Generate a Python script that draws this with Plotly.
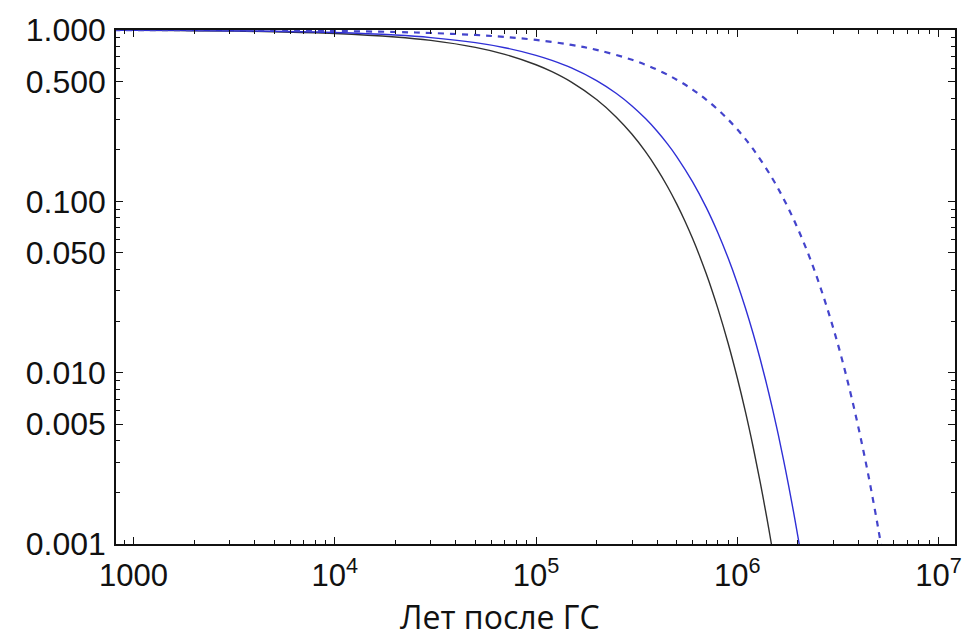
import plotly.graph_objects as go

# Years after the event (x) and surviving fraction for each curve (y)
t_black = [800, 1000, 2000, 5000, 1e4, 2e4, 3e4, 5e4, 7e4, 1e5, 1.2e5, 1.5e5, 2e5, 2.5e5,
           3e5, 3.5e5, 4e5, 4.5e5, 5e5, 5.5e5, 6e5, 6.5e5, 7e5, 7.5e5, 8e5, 9e5, 1e6,
           1.1e6, 1.2e6, 1.3e6, 1.4e6, 1.45e6, 1.5e6]
f_black = [0.9963, 0.9953, 0.9907, 0.9769, 0.9544, 0.9108, 0.8692, 0.7917, 0.7210, 0.6267,
           0.5708, 0.4961, 0.3927, 0.3109, 0.2461, 0.1949, 0.1542, 0.1221, 0.0966, 0.0765,
           0.0606, 0.0480, 0.0380, 0.0301, 0.0238, 0.01491, 0.00934, 0.00586, 0.00367,
           0.00230, 0.00144, 0.00114, 0.000903]

t_blue = [800, 1000, 2000, 5000, 1e4, 2e4, 3e4, 5e4, 7e4, 1e5, 1.2e5, 1.5e5, 2e5, 2.5e5,
          3e5, 3.5e5, 4e5, 4.5e5, 5e5, 6e5, 7e5, 8e5, 9e5, 1e6, 1.1e6, 1.2e6, 1.3e6, 1.4e6,
          1.5e6, 1.6e6, 1.7e6, 1.8e6, 1.9e6, 2.0e6, 2.05e6]
f_blue = [0.9973, 0.9966, 0.9932, 0.9831, 0.9666, 0.9342, 0.9030, 0.8436, 0.7881, 0.7117,
          0.6649, 0.6004, 0.5065, 0.4272, 0.3604, 0.3041, 0.2565, 0.2164, 0.1826, 0.1299,
          0.0925, 0.0658, 0.0468, 0.0333, 0.0237, 0.01688, 0.01201, 0.00855, 0.00608,
          0.00433, 0.00308, 0.00219, 0.00156, 0.00111, 0.00094]

t_dash = [800, 1000, 2000, 5000, 1e4, 2e4, 3e4, 5e4, 7e4, 1e5, 1.5e5, 2e5, 3e5, 4e5, 5e5,
          6e5, 7e5, 8.5e5, 1e6, 1.2e6, 1.5e6, 1.75e6, 2e6, 2.25e6, 2.5e6, 2.75e6, 3e6,
          3.25e6, 3.5e6, 3.75e6, 4e6, 4.25e6, 4.5e6, 4.75e6, 5e6, 5.2e6]
f_dash = [0.9989, 0.9987, 0.9973, 0.9934, 0.9867, 0.9736, 0.9607, 0.9354, 0.9108, 0.8750,
          0.8185, 0.7657, 0.6700, 0.5862, 0.5130, 0.4489, 0.3928, 0.3215, 0.2632, 0.2015,
          0.1350, 0.0967, 0.0692, 0.0496, 0.0355, 0.0254, 0.0182, 0.01305, 0.00934,
          0.00669, 0.00479, 0.00343, 0.00246, 0.00176, 0.00126, 0.000966]

x_tickvals = [1000, 1e4, 1e5, 1e6, 1e7]
x_ticktext = ["1000", "10<sup>4</sup>", "10<sup>5</sup>", "10<sup>6</sup>", "10<sup>7</sup>"]
y_tickvals = [0.001, 0.005, 0.01, 0.05, 0.1, 0.5, 1.0]
y_ticktext = ["0.001", "0.005", "0.010", "0.050", "0.100", "0.500", "1.000"]

x_minor = [m * 10 ** e for e in range(2, 7) for m in range(2, 10)]
y_minor = [m * 10 ** e for e in range(-3, 0) for m in range(2, 10) if m != 5]

fig = go.Figure()
fig.add_trace(go.Scatter(x=t_black, y=f_black, mode="lines",
                         line=dict(color="#303030", width=1.4, shape="spline")))
fig.add_trace(go.Scatter(x=t_blue, y=f_blue, mode="lines",
                         line=dict(color="#2f2fd6", width=1.4, shape="spline")))
fig.add_trace(go.Scatter(x=t_dash, y=f_dash, mode="lines",
                         line=dict(color="#4444cc", width=2.2, dash="6px,6px", shape="spline")))

axis_common = dict(showline=True, linecolor="#111111", linewidth=1.5, mirror="allticks",
                   ticks="inside", ticklen=7, tickwidth=1.3, tickcolor="#111111",
                   showgrid=False, zeroline=False)

fig.update_xaxes(type="log", range=[2.913, 7.082], tickmode="array",
                 tickvals=x_tickvals, ticktext=x_ticktext, ticklabelstandoff=3,
                 tickfont=dict(family="Liberation Sans, Arial", size=31, color="#111111"),
                 minor=dict(tickvals=x_minor, ticks="inside", ticklen=4, tickwidth=1,
                            tickcolor="#111111", showgrid=False),
                 **axis_common)
fig.update_yaxes(type="log", range=[-3, 0.0], tickmode="array",
                 tickvals=y_tickvals, ticktext=y_ticktext, ticklabelstandoff=2,
                 tickfont=dict(family="Liberation Sans, Arial", size=32, color="#111111"),
                 minor=dict(tickvals=y_minor, ticks="inside", ticklen=4, tickwidth=1,
                            tickcolor="#111111", showgrid=False),
                 **axis_common)

fig.add_annotation(text="Лет после ГС", xref="paper", yref="paper", x=(500 - 116) / 840,
                   y=(544 - 617) / 517, xanchor="center", yanchor="middle", showarrow=False,
                   font=dict(family="Open Sans", size=32, color="#111111"))

fig.update_layout(width=974, height=638, showlegend=False,
                  margin=dict(l=116, r=18, t=27, b=94),
                  plot_bgcolor="white", paper_bgcolor="white")

fig.write_html("out.html")
